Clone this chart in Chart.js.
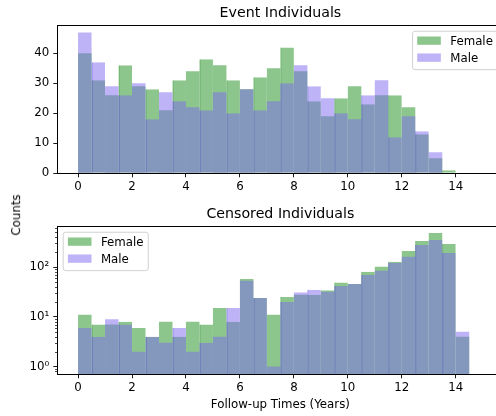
<!DOCTYPE html>
<html>
<head>
<meta charset="utf-8">
<script src="https://cdn.jsdelivr.net/npm/chart.js@4.4.1/dist/chart.umd.min.js"></script>
<style>
  html, body { margin: 0; padding: 0; background: #fff; width: 496px; height: 416px; overflow: hidden; }
  #wrap { position: relative; width: 496px; height: 416px; overflow: hidden; }
  canvas { position: absolute; left: 0; }
  #event-chart { top: 0; }
  #censored-chart { top: 201px; }
  #counts-label {
    position: absolute; left: 17px; top: 215px;
    transform: translate(-50%, -50%) rotate(-90deg);
    font: 11.8px "DejaVu Sans"; line-height: 1; white-space: nowrap; color: #000;
  }
</style>
</head>
<body>
<div id="wrap">
  <canvas id="event-chart" width="510" height="201"></canvas>
  <canvas id="censored-chart" width="510" height="215"></canvas>
  <div id="counts-label">Counts</div>
</div>
<script>
// histogram bins (years), 0.5 wide
const binStarts = [0, 0.5, 1, 1.5, 2, 2.5, 3, 3.5, 4, 4.5, 5, 5.5, 6, 6.5, 7, 7.5, 8, 8.5, 9, 9.5, 10, 10.5, 11, 11.5, 12, 12.5, 13, 13.5, 14];
const binWidth = 0.5;
const seriesLabels = ["Female", "Male"];

// Event individuals (counts)
const eventFemale = [40, 31, 26, 36, 29, 28, 21, 31, 34, 38, 36, 31, 28, 32, 35, 42, 34, 24, 19, 25, 29, 23, 26, 26, 22, 13, 5, 1, 0];
const eventMale   = [47, 37, 29, 26, 30, 18, 27, 24, 22, 21, 27, 20, 28, 21, 24, 30, 36, 29, 25, 20, 18, 26, 31, 12, 19, 14, 7, 0, 0];

// Censored individuals (counts, log axis)
const censoredFemale = [11, 7, 7, 8, 6, 4, 8, 4, 8, 7, 15, 8, 58, 24, 11, 25, 28, 28, 34, 49, 46, 81, 102, 128, 212, 336, 486, 293, 4];
const censoredMale   = [6, 4, 9, 7, 2, 4, 3, 6, 2, 3, 4, 15, 53, 24, 1, 20, 31, 35, 32, 42, 46, 70, 85, 122, 161, 280, 352, 193, 5];

const xTicks = [0, 2, 4, 6, 8, 10, 12, 14];
const eventYTicks = [0, 10, 20, 30, 40];
const censoredYTicks = [1, 10, 100];
const censoredYLabels = ["10⁰", "10¹", "10²"];
const censoredMinorTicks = [0.8, 0.9, 2, 3, 4, 5, 6, 7, 8, 9, 20, 30, 40, 50, 60, 70, 80, 90, 200, 300, 400, 500, 600];

const femaleFill = "rgba(0, 128, 0, 0.45)";
const femaleSeam = "rgba(0, 128, 0, 0.8)";
const maleFill = "rgba(123, 104, 238, 0.5)";
const maleSeam = "rgba(100, 84, 230, 0.9)";

Chart.defaults.font.family = '"DejaVu Sans"';
Chart.defaults.color = "#000";

const tickFont = { size: 11.8 };

// black box around the plot area, like matplotlib spines
const framePlugin = {
    id: "frame",
    afterDatasetsDraw(chart) {
        const { ctx, chartArea: a } = chart;
        ctx.save();
        ctx.strokeStyle = "#000";
        ctx.lineWidth = 1;
        ctx.strokeRect(Math.round(a.left) + 0.5, Math.round(a.top) + 0.5,
            Math.round(a.right) - Math.round(a.left), Math.round(a.bottom) - Math.round(a.top));
        ctx.restore();
    }
};

// legend drawn inside the plot area with a rounded frame
const boxLegendPlugin = {
    id: "boxLegend",
    afterDatasetsDraw(chart, args, opts) {
        const { ctx, chartArea: a } = chart;
        const fs = 11.8, pad = 4.7, handleW = 23.6, handleH = 8.3, textPad = 9.4, gap = 5.9;
        const rows = [9.4, 26.4], boxH = 38.4;
        ctx.save();
        ctx.font = fs + 'px "DejaVu Sans"';
        const items = chart.data.datasets;
        const textW = Math.max(...items.map(d => ctx.measureText(d.label).width));
        const w = pad * 2 + handleW + textPad + textW;
        const left = opts.corner === "right" ? a.right - gap - w : a.left + gap;
        const top = a.top + gap;

        ctx.beginPath();
        ctx.roundRect(left, top, w, boxH, 2.5);
        ctx.fillStyle = "rgba(255,255,255,0.8)";
        ctx.fill();
        ctx.strokeStyle = "#cccccc";
        ctx.lineWidth = 0.9;
        ctx.stroke();

        items.forEach((d, i) => {
            const cy = top + rows[i];
            ctx.fillStyle = d.backgroundColor;
            ctx.fillRect(left + pad, cy - handleH / 2, handleW, handleH);
            ctx.fillStyle = "#000";
            ctx.textBaseline = "alphabetic";
            ctx.fillText(d.label, left + pad + handleW + textPad, cy + 4.3);
        });
        ctx.restore();
    }
};

// short minor ticks on the log axis
const minorTicksPlugin = {
    id: "minorTicks",
    afterDraw(chart) {
        const { ctx, chartArea: a } = chart;
        const y = chart.scales.y;
        ctx.save();
        ctx.strokeStyle = "#000";
        ctx.lineWidth = 0.7;
        ctx.beginPath();
        censoredMinorTicks.forEach(v => {
            const py = Math.round(y.getPixelForValue(v)) + 0.5;
            ctx.moveTo(a.left - 2.3, py);
            ctx.lineTo(a.left, py);
        });
        ctx.stroke();
        ctx.restore();
    }
};

function histDataset(label, values, fill, seam, order) {
    return {
        label: label,
        order: order,
        data: values.map((v, i) => ({ x: binStarts[i] + binWidth / 2, y: v })),
        backgroundColor: fill,
        borderColor: seam,
        // every other bin edge shows a darker seam in the original
        borderWidth: ctx => ctx.dataIndex % 2 === 1 ? { left: 1, top: 0, right: 0, bottom: 0 } : 0,
        borderSkipped: false,
        inflateAmount: 0,
        categoryPercentage: 1,
        barPercentage: 1,
        grouped: false
    };
}

function makeChart(canvasId, opts) {
    const canvas = document.getElementById(canvasId);
    const xAxisHeight = canvas.height - 173.3;

    const xScale = {
        type: "linear",
        min: -0.77,
        max: 15.77,
        offset: false,
        afterBuildTicks: s => { s.ticks = xTicks.map(v => ({ value: v })); },
        afterFit: s => { s.height = xAxisHeight; },
        ticks: { font: tickFont, color: "#000", padding: 3, maxRotation: 0, autoSkip: false },
        grid: { offset: false, drawOnChartArea: false, tickLength: 4, tickColor: "#000", tickWidth: 0.9 },
        border: { display: false }
    };
    if (opts.xTitle) {
        xScale.title = { display: true, text: opts.xTitle, font: { size: 11.8 }, color: "#000", padding: { top: 0, bottom: 4 } };
    }

    return new Chart(canvas, {
        type: "bar",
        data: {
            datasets: [
                histDataset(seriesLabels[0], opts.female, femaleFill, femaleSeam, 1),
                histDataset(seriesLabels[1], opts.male, maleFill, maleSeam, 0)
            ]
        },
        options: {
            responsive: false,
            animation: false,
            events: [],
            layout: { padding: { left: 0, right: 6.5, top: 0, bottom: 0 } },
            plugins: {
                legend: { display: false },
                tooltip: { enabled: false },
                title: {
                    display: true,
                    text: opts.title,
                    fullSize: false,
                    font: { size: 14.2, weight: "normal" },
                    color: "#000",
                    padding: { top: 5, bottom: 3.3 }
                },
                boxLegend: { corner: opts.legendCorner }
            },
            scales: {
                x: xScale,
                y: Object.assign({
                    afterFit: s => { s.width = 57.3; },
                    ticks: { font: tickFont, color: "#000", padding: 4 },
                    grid: { drawOnChartArea: false, tickLength: 4, tickColor: "#000", tickWidth: 0.9 },
                    border: { display: false }
                }, opts.y)
            }
        },
        plugins: opts.plugins
    });
}

makeChart("event-chart", {
    title: "Event Individuals",
    female: eventFemale,
    male: eventMale,
    legendCorner: "right",
    y: {
        type: "linear",
        min: 0,
        max: 49.35,
        afterBuildTicks: s => { s.ticks = eventYTicks.map(v => ({ value: v })); }
    },
    plugins: [framePlugin, boxLegendPlugin]
});

makeChart("censored-chart", {
    title: "Censored Individuals",
    xTitle: "Follow-up Times (Years)",
    female: censoredFemale,
    male: censoredMale,
    legendCorner: "left",
    y: {
        type: "logarithmic",
        min: 0.734,
        max: 662,
        afterBuildTicks: s => { s.ticks = censoredYTicks.map(v => ({ value: v })); },
        ticks: { font: tickFont, color: "#000", padding: 4, callback: (v, i) => censoredYLabels[i] }
    },
    plugins: [framePlugin, boxLegendPlugin, minorTicksPlugin]
});
</script>
</body>
</html>
